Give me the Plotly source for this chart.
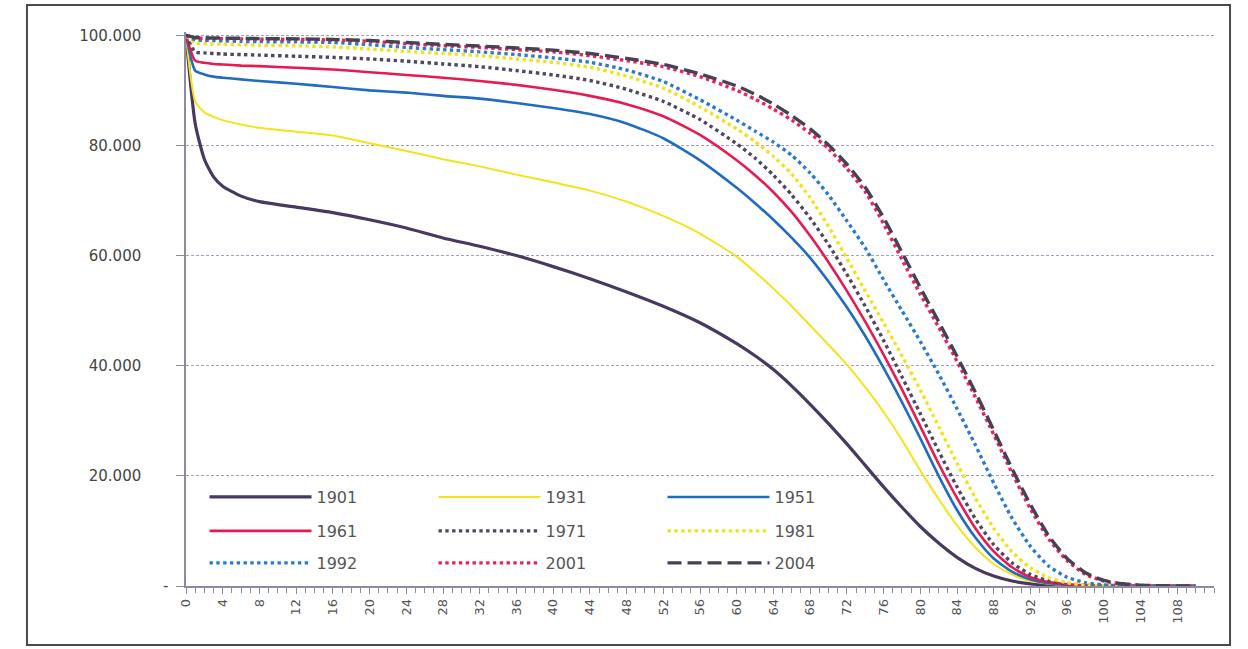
import plotly.graph_objects as go

# Age (years)
ages = [0, 1, 2, 3, 4, 6, 8, 12, 16, 20, 24, 28, 32, 36, 40, 44, 48, 52, 56,
        60, 62, 64, 66, 68, 70, 72, 74, 76, 78, 80, 82, 84, 86, 88, 90, 92, 94,
        96, 98, 100, 102, 104, 106, 108, 110]

# Survivors (thousands, out of 100.000)
s1901 = [100, 84, 77.5, 74.3, 72.6, 70.8, 69.8, 68.8, 67.8, 66.5, 65, 63.2, 61.7, 60, 58, 55.8, 53.4, 50.8, 47.8,
         44, 41.8, 39.3, 36.3, 33, 29.5, 25.8, 21.9, 18, 14.3, 10.8, 7.8, 5.2, 3.2, 1.8, 0.9, 0.4, 0.15,
         0.05, 0.02, 0, 0, 0, 0, 0, 0]
s1931 = [100, 88, 86, 85.2, 84.6, 83.8, 83.2, 82.5, 81.8, 80.4, 79, 77.5, 76.2, 74.7, 73.3, 71.8, 69.8, 67.2, 64,
         59.8, 57, 54, 50.8, 47.3, 43.8, 40.2, 36.1, 31.6, 26.5, 21, 15.8, 11, 7, 4, 2.1, 0.9, 0.4,
         0.15, 0.05, 0.02, 0, 0, 0, 0, 0]
s1951 = [100, 93.6, 92.9, 92.5, 92.3, 92, 91.7, 91.2, 90.6, 90, 89.6, 89, 88.5, 87.7, 86.8, 85.7, 84, 81.3, 77.3,
         72.3, 69.5, 66.5, 63.2, 59.6, 55.3, 50.6, 45.4, 39.6, 33.4, 26.8, 20, 13.8, 8.8, 5, 2.6, 1.2, 0.5,
         0.2, 0.06, 0.02, 0, 0, 0, 0, 0]
s1961 = [100, 95.4, 95, 94.8, 94.7, 94.5, 94.4, 94.1, 93.8, 93.3, 92.8, 92.3, 91.7, 91, 90.1, 89, 87.5, 85.3, 81.9,
         77.3, 74.6, 71.5, 67.9, 63.6, 58.8, 53.6, 48, 42, 35.7, 29, 22.2, 16, 10.5, 6.3, 3.4, 1.6, 0.7,
         0.3, 0.1, 0.03, 0, 0, 0, 0, 0]
s1971 = [100, 97, 96.8, 96.7, 96.6, 96.5, 96.4, 96.2, 96, 95.7, 95.3, 94.8, 94.3, 93.6, 92.8, 91.8, 90.2, 88, 84.7,
         80.3, 77.7, 74.6, 71, 66.8, 62, 56.6, 50.8, 44.6, 38, 31.3, 24.5, 18, 12.2, 7.5, 4.2, 2.1, 0.9,
         0.35, 0.12, 0.04, 0.01, 0, 0, 0, 0]
s1981 = [100, 98.6, 98.5, 98.4, 98.4, 98.3, 98.2, 98.1, 97.9, 97.5, 97.1, 96.7, 96.3, 95.7, 95.1, 94.2, 92.6, 90.4, 87,
         83, 80.7, 78, 74.8, 70.5, 65.3, 59.5, 53.6, 47.8, 41.8, 35.6, 29, 22.3, 16, 10.5, 6.2, 3.3, 1.5,
         0.6, 0.2, 0.07, 0.02, 0, 0, 0, 0]
s1992 = [100, 99.2, 99.1, 99.05, 99, 98.9, 98.85, 98.8, 98.7, 98.3, 97.8, 97.4, 97, 96.5, 95.9, 95.1, 93.7, 91.6, 88.3,
         84.6, 82.6, 80.6, 78.2, 75, 71, 66.3, 61.4, 55.6, 50, 44.4, 38.5, 32.2, 25.6, 18.7, 12.3, 7.2, 3.6,
         1.6, 0.6, 0.2, 0.06, 0.02, 0, 0, 0]
s2001 = [100, 99.5, 99.45, 99.4, 99.4, 99.35, 99.3, 99.25, 99.15, 98.9, 98.5, 98.1, 97.8, 97.4, 97, 96.3, 95.4, 94.3, 92.5,
         90, 88.4, 86.6, 84.6, 82.2, 79.4, 75.8, 71.6, 65.8, 59.3, 53, 47, 40.8, 34.3, 27.5, 20.5, 14, 8.5,
         4.6, 2.1, 0.9, 0.35, 0.12, 0.04, 0.01, 0]
s2004 = [100, 99.6, 99.55, 99.5, 99.5, 99.45, 99.4, 99.35, 99.25, 99.05, 98.7, 98.35, 98.05, 97.7, 97.3, 96.7, 95.8, 94.7, 93,
         90.8, 89.3, 87.5, 85.4, 83, 80.1, 76.6, 72.4, 66.9, 60.6, 54.2, 48, 41.7, 35.2, 28.3, 21.3, 14.8, 9.1,
         5, 2.4, 1, 0.4, 0.15, 0.05, 0.02, 0]

series_names = ["1901", "1931", "1951", "1961", "1971", "1981", "1992", "2001", "2004"]
series_values = [s1901, s1931, s1951, s1961, s1971, s1981, s1992, s2001, s2004]

x_tickvals = list(range(0, 109, 4))
y_tickvals = [0, 20, 40, 60, 80, 100]
y_ticktext = ["", "20.000", "40.000", "60.000", "80.000", "100.000"]
zero_label = "-"

styles = [
    dict(color="#47395f", width=3.2, dash="solid"),
    dict(color="#f4e31a", width=2.0, dash="solid"),
    dict(color="#1f6cc2", width=2.6, dash="solid"),
    dict(color="#e81a52", width=2.6, dash="solid"),
    dict(color="#4f4862", width=3.4, dash="dot"),
    dict(color="#f2e21c", width=3.4, dash="dot"),
    dict(color="#2a7bd0", width=3.4, dash="dot"),
    dict(color="#e8245a", width=3.4, dash="dot"),
    dict(color="#474156", width=3.4, dash="14px,6px"),
]
legend_ids = ["legend", "legend", "legend", "legend2", "legend2", "legend2", "legend3", "legend3", "legend3"]

fig = go.Figure()
for name, vals, st, lg in zip(series_names, series_values, styles, legend_ids):
    fig.add_trace(go.Scatter(
        x=ages, y=vals, name=name, mode="lines",
        line=dict(color=st["color"], width=st["width"], dash=st["dash"], shape="spline", smoothing=0.6),
        legend=lg, hoverinfo="x+y+name",
    ))

leg_common = dict(
    orientation="h", xref="paper", yref="paper", x=0.018, xanchor="left", yanchor="middle",
    entrywidth=112, entrywidthmode="pixels", itemwidth=102,
    bgcolor="rgba(0,0,0,0)", font=dict(family="DejaVu Sans", size=16, color="#555555"),
    itemclick=False, itemdoubleclick=False,
)

fig.update_layout(
    width=1248, height=649,
    margin=dict(l=186, r=34, t=32, b=63),
    paper_bgcolor="white", plot_bgcolor="white",
    legend=dict(leg_common, y=0.1606),
    legend2=dict(leg_common, y=0.0993),
    legend3=dict(leg_common, y=0.0415),
    xaxis=dict(
        range=[0, 112], tickmode="array", tickvals=x_tickvals, tickangle=-90,
        showgrid=False, zeroline=False, showline=True, linecolor="#8f8aa0", linewidth=1.5,
        ticks="outside", ticklen=6, tickcolor="#8f8aa0",
        tickfont=dict(family="DejaVu Sans", size=13, color="#555555"),
        minor=dict(dtick=1, tick0=0, ticks="outside", ticklen=5, tickcolor="#8f8aa0", showgrid=False),
    ),
    yaxis=dict(
        range=[0, 100.6], tickvals=y_tickvals, ticktext=y_ticktext,
        showgrid=True, gridcolor="#a8a0b8", gridwidth=1, griddash="3px,2px",
        zeroline=False, showline=True, linecolor="#8f8aa0", linewidth=1.5,
        ticks="outside", ticklen=8, tickcolor="#8f8aa0", ticklabelstandoff=32,
        tickfont=dict(family="DejaVu Sans", size=15, color="#444444"),
    ),
    annotations=[dict(text=zero_label, xref="paper", yref="y", x=-0.0204, y=0,
                      xanchor="center", yanchor="middle", showarrow=False,
                      font=dict(family="DejaVu Sans", size=15, color="#444444"))],
    shapes=[dict(type="rect", xref="paper", yref="paper",
                 x0=-0.1547, x1=1.0156, y0=-0.1065, y1=1.0487,
                 line=dict(color="#4a4a4a", width=2), fillcolor="rgba(0,0,0,0)", layer="below")],
)

fig.write_html("out.html", config={"displayModeBar": False},
               post_script="document.body.style.margin='0';document.body.style.overflow='hidden';")
